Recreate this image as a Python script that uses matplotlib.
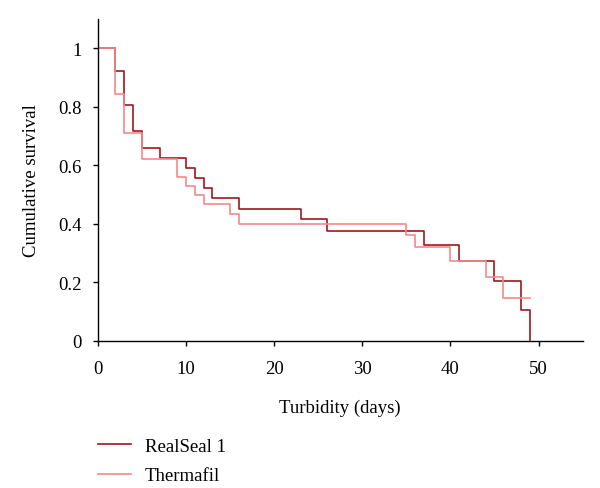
import matplotlib.pyplot as plt

# Kaplan-Meier step data
realseal_days = [0, 2, 3, 4, 5, 7, 10, 11, 12, 13, 16, 23, 26, 37, 41, 45, 48, 49]
realseal_surv = [1.0, 0.922, 0.806, 0.717, 0.658, 0.626, 0.591, 0.557, 0.521, 0.487,
                 0.450, 0.415, 0.374, 0.329, 0.273, 0.205, 0.104, 0.0]

thermafil_days = [0, 2, 3, 5, 9, 10, 11, 12, 15, 16, 35, 36, 40, 44, 46, 49]
thermafil_surv = [1.0, 0.843, 0.711, 0.622, 0.560, 0.530, 0.498, 0.467, 0.434, 0.400,
                  0.361, 0.321, 0.273, 0.219, 0.146, 0.146]

x_ticks = [0, 10, 20, 30, 40, 50]
y_ticks = [0, 0.2, 0.4, 0.6, 0.8, 1]
y_tick_labels = ['0', '0.2', '0.4', '0.6', '0.8', '1']

plt.rcParams['font.family'] = ['Liberation Serif', 'DejaVu Serif']

fig = plt.figure(figsize=(6.0, 4.89), dpi=100)
ax = fig.add_axes([0.163, 0.301, 0.808, 0.658])

dark, = ax.step(realseal_days, realseal_surv, where='post', color='#a0161e', lw=1.2)
light, = ax.step(thermafil_days, thermafil_surv, where='post', color='#f2898b', lw=1.2)

ax.set_xlim(0, 55)
ax.set_ylim(0, 1.1)
ax.set_xticks(x_ticks)
ax.set_yticks(y_ticks)
ax.set_yticklabels(y_tick_labels)
ax.spines['top'].set_visible(False)
ax.spines['right'].set_visible(False)
for s in ['left', 'bottom']:
    ax.spines[s].set_linewidth(1.0)
ax.tick_params(direction='out', length=3.5, width=1.0, labelsize=13.5)
ax.tick_params(axis='x', pad=10)
ax.tick_params(axis='y', pad=8)

ax.set_xlabel('Turbidity (days)', fontsize=13.5, labelpad=16)
ax.set_ylabel('Cumulative survival', fontsize=13.5, labelpad=13)

fig.legend([dark, light], ['RealSeal 1', 'Thermafil'], loc='upper left',
           bbox_to_anchor=(0.163, 0.103),
           frameon=False, fontsize=13.5, handlelength=1.75, handletextpad=0.75,
           labelspacing=0.65, borderaxespad=0, borderpad=0)

fig.savefig('out.png', dpi=100)
